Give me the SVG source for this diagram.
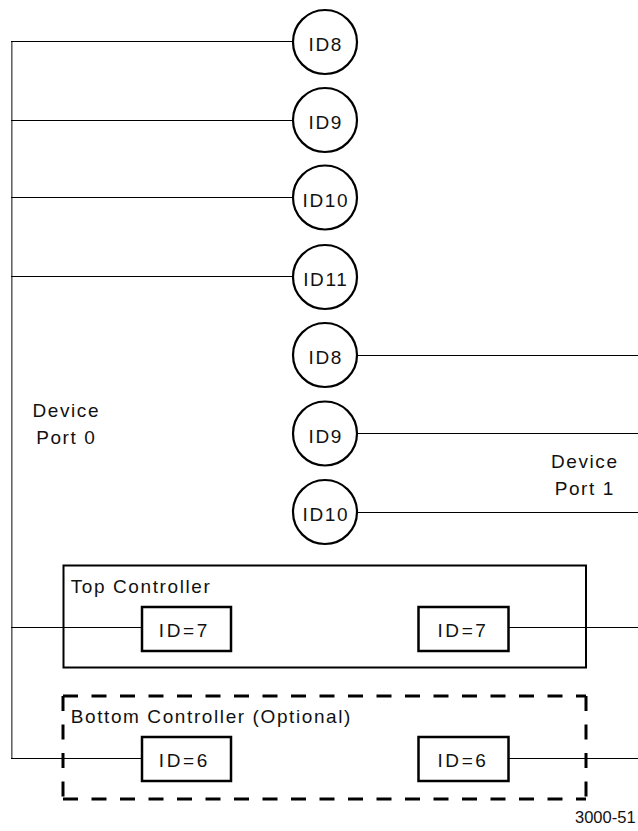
<svg xmlns="http://www.w3.org/2000/svg" width="638" height="831" viewBox="0 0 638 831">
<style>
text{font-family:"Liberation Sans",Arial,Helvetica,sans-serif;font-size:19px;letter-spacing:1.6px;fill:#111}
.c{text-anchor:middle}
.circ{fill:#fff;stroke:#000;stroke-width:2.2}
.box{fill:none;stroke:#000;stroke-width:2}
.ibox{fill:#fff;stroke:#000;stroke-width:2.5}
.wire{fill:none;stroke:#000;stroke-width:1}
.bus{fill:none;stroke:#666;stroke-width:1.6}
.dash{fill:none;stroke:#000;stroke-width:3;stroke-dasharray:15 13.5}
.idt{letter-spacing:2.6px}
.fig{font-size:16.5px;letter-spacing:0}
</style>
<g id="connectors">
  <line class="bus" x1="11.8" y1="41.5" x2="11.8" y2="758.5"/>
  <line class="wire" x1="11" y1="41.5" x2="293" y2="41.5"/>
  <line class="wire" x1="11" y1="120.5" x2="293" y2="120.5"/>
  <line class="wire" x1="11" y1="197.5" x2="293" y2="197.5"/>
  <line class="wire" x1="11" y1="276.5" x2="293" y2="276.5"/>
  <line class="wire" x1="357" y1="355.5" x2="638" y2="355.5"/>
  <line class="wire" x1="357" y1="433.5" x2="638" y2="433.5"/>
  <line class="wire" x1="357" y1="512.5" x2="638" y2="512.5"/>
  <line class="wire" x1="11" y1="627.5" x2="142" y2="627.5"/>
  <line class="wire" x1="508" y1="627.5" x2="638" y2="627.5"/>
  <line class="wire" x1="11" y1="758.5" x2="142" y2="758.5"/>
  <line class="wire" x1="508" y1="758.5" x2="638" y2="758.5"/>
</g>
<g id="port0-id8"><circle class="circ" cx="325" cy="42" r="32"/><text class="c" x="325.8" y="51">ID8</text></g>
<g id="port0-id9"><circle class="circ" cx="325" cy="120" r="32"/><text class="c" x="325.8" y="129">ID9</text></g>
<g id="port0-id10"><circle class="circ" cx="325" cy="197.5" r="32"/><text class="c" x="325.8" y="206.5">ID10</text></g>
<g id="port0-id11"><circle class="circ" cx="325" cy="277" r="32"/><text class="c" x="325.8" y="286">ID11</text></g>
<g id="port1-id8"><circle class="circ" cx="325" cy="355" r="32"/><text class="c" x="325.8" y="364">ID8</text></g>
<g id="port1-id9"><circle class="circ" cx="325" cy="433.5" r="32"/><text class="c" x="325.8" y="442.5">ID9</text></g>
<g id="port1-id10"><circle class="circ" cx="325" cy="512" r="32"/><text class="c" x="325.8" y="521">ID10</text></g>
<g id="port0-label"><text class="c" x="66.3" y="417">Device</text><text class="c" x="66.3" y="444">Port 0</text></g>
<g id="port1-label"><text class="c" x="584.8" y="468">Device</text><text class="c" x="584.8" y="495">Port 1</text></g>
<g id="top-controller">
  <rect class="box" x="63.5" y="565.5" width="522.5" height="102"/>
  <text x="70.7" y="592.7">Top Controller</text>
</g>
<g id="top-id7-left"><rect class="ibox" x="142" y="607" width="89" height="44"/><text class="c idt" x="184.3" y="637">ID=7</text></g>
<g id="top-id7-right"><rect class="ibox" x="418.5" y="607" width="90" height="44"/><text class="c idt" x="463" y="637">ID=7</text></g>
<g id="bottom-controller">
  <line class="dash" x1="63" y1="696" x2="586" y2="696"/>
  <line class="dash" x1="63" y1="799" x2="586" y2="799"/>
  <line class="dash" x1="63" y1="696" x2="63" y2="799"/>
  <line class="dash" x1="586" y1="696" x2="586" y2="799"/>
  <text x="70.7" y="723.3">Bottom Controller (Optional)</text>
</g>
<g id="bottom-id6-left"><rect class="ibox" x="142" y="737" width="89" height="44"/><text class="c idt" x="184.3" y="767.3">ID=6</text></g>
<g id="bottom-id6-right"><rect class="ibox" x="418.5" y="737" width="90" height="44"/><text class="c idt" x="463" y="767.3">ID=6</text></g>
<g id="figure-number"><text class="fig" x="575" y="823">3000-51</text></g>
</svg>
